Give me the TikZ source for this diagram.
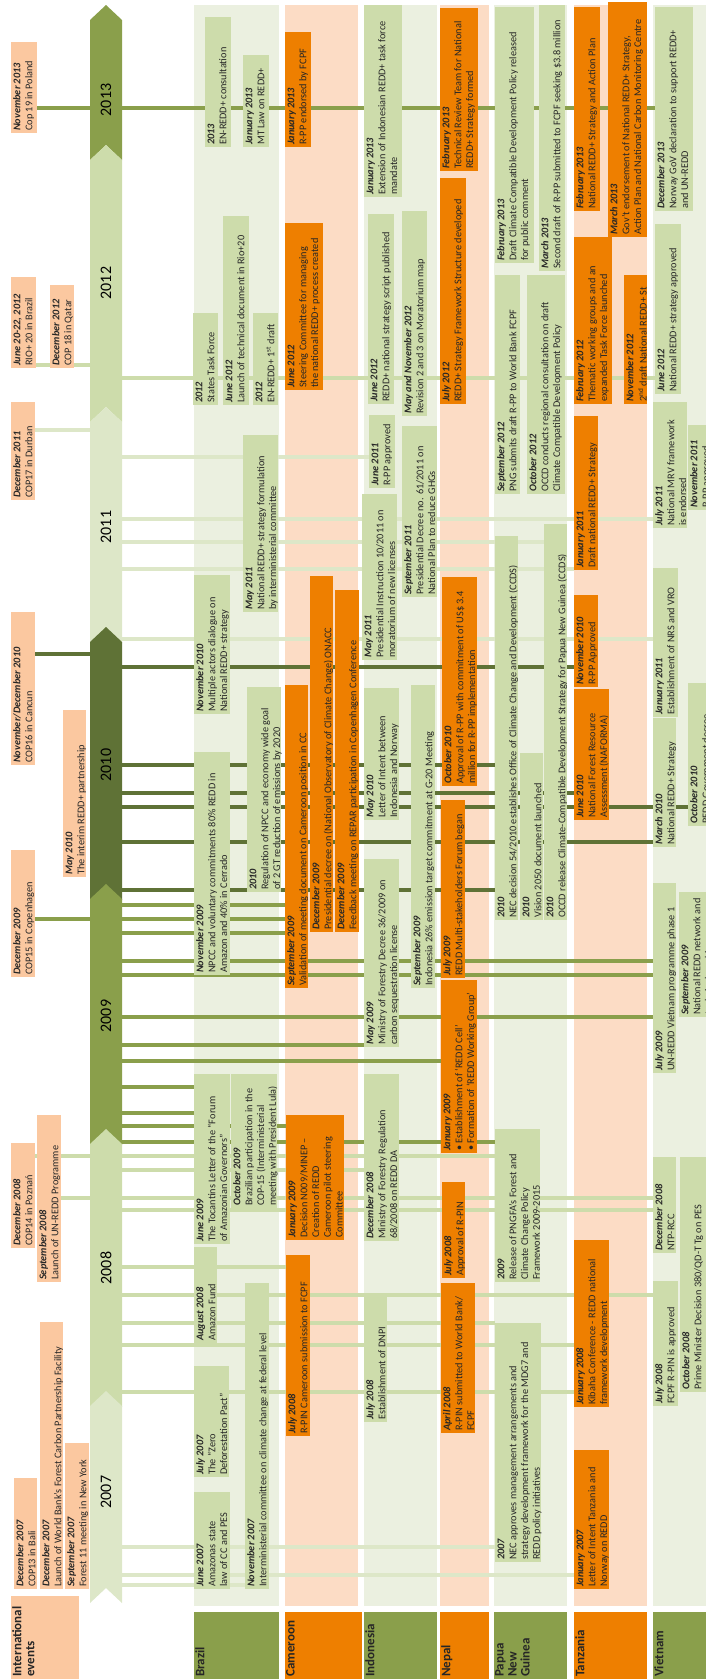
\documentclass[tikz,border=0pt]{standalone}
\usepackage{fontspec}
\setmainfont{Carlito}
\usepackage{tikz}

\definecolor{peachbox}{HTML}{FBC8A0}
\definecolor{peachbg}{HTML}{FCDCC5}
\definecolor{greenbg}{HTML}{EBF0E0}
\definecolor{greenbox}{HTML}{CDDCAB}
\definecolor{greenpale}{HTML}{DDE7C8}
\definecolor{greenmid}{HTML}{8A9F4B}
\definecolor{greendark}{HTML}{5F7236}
\definecolor{orangebox}{HTML}{EE7F00}

\pgfdeclarelayer{bands}
\pgfdeclarelayer{links}
\pgfsetlayers{bands,links,main}

\tikzset{
  evt/.style={rotate=90, anchor=north west, inner xsep=2pt, inner ysep=1pt,
    text=black!85, font=\fontsize{10.3}{11.8}\selectfont},
  yrlab/.style={rotate=90, font=\fontsize{16}{16}\selectfont},
  link/.style={line width=4pt},
}

\newcommand{\dt}[1]{\textbf{\textit{#1}}}
\newcommand{\rowname}{\fontsize{13}{13}\selectfont\bfseries}
% name, fill, left, right, top, bottom, text
\newcommand{\evt}[7]{%
  \node[evt, fill=#2] (#1) at (#3,#6)
    {\parbox[c][\dimexpr#4pt-#3pt-2pt\relax][t]{\dimexpr#6pt-#5pt-4pt\relax}{\raggedright\strut#7}};}

\begin{document}
\begin{tikzpicture}[x=1pt, y=-1pt]
    \useasboundingbox (0,0) rectangle (706,1679);
    \clip (0,0) rectangle (706,1679);

    % country bands
    \begin{pgfonlayer}{bands}
    \foreach \a/\b/\c in {194/279/greenbg, 285/358/peachbg, 364/437/greenbg, 440/489/peachbg,
                          494/567/greenbg, 574/647/peachbg, 653/706/greenbg} {
        \fill[\c] (\a,5) rectangle (\b,1606);
    }
    \end{pgfonlayer}

    % year arrow
    \coordinate (spine) at (106,0);
    \foreach \ya/\yb/\col/\yr/\ym in {5/160/greenmid/2013/100, 145/422/greenbox/2012/283,
            407/643/greenpale/2011/527, 627/900/greendark/2010/765, 884/1145/greenmid/2009/1016,
            1129/1407/greenbox/2008/1268, 1391/1603/greenpale/2007/1492} {
        \fill[\col] (90,\ya+15) -- (106,\ya) -- (122,\ya+15) -- (122,\yb) -- (106,\yb-15) -- (90,\yb) -- cycle;
        \node[yrlab] (yr\yr) at (106,\ym) {\yr};
    }

    % international events
    \evt{i13}{peachbox}{11}{37}{42}{133}{\dt{November 2013}\\Cop 19  in Poland}
    \evt{i12a}{peachbox}{11}{36}{277}{368}{\dt{June  20-22, 2012}\\RIO+ 20 in Brazil}
    \evt{i12b}{peachbox}{50}{74}{285}{368}{\dt{December  2012}\\COP 18 in Qatar}
    \evt{i11}{peachbox}{11}{35}{402}{500}{\dt{December 2011}\\COP17 in Durban}
    \evt{i10a}{peachbox}{11}{35}{612}{765}{\dt{November/December 2010}\\COP16 in Cancun}
    \evt{i10b}{peachbox}{63}{86}{710}{877}{\dt{May 2010}\\The interim REDD+ partnership}
    \evt{i09}{peachbox}{11}{35}{850}{977}{\dt{December 2009}\\COP15 in Copenhagen}
    \evt{i08a}{peachbox}{11}{35}{1143}{1248}{\dt{December 2008}\\COP14 in Poznań}
    \evt{i08b}{peachbox}{37}{61}{1115}{1282}{\dt{September 2008}\\Launch of UN-REDD Programme}
    \evt{i07b}{peachbox}{40}{63}{1322}{1589}{\dt{December 2007}\\Launch of World Bank’s Forest Carbon Partnership Facility}
    \evt{i07a}{peachbox}{14}{37}{1478}{1589}{\dt{December 2007}\\COP13 in Bali}
    \evt{i07c}{peachbox}{65}{89}{1443}{1589}{\dt{September 2007}\\Forest 11 meeting in New York}

    % Brazil
    \evt{b13a}{greenbox}{205}{231}{17}{147}{\dt{2013}\\EN-REDD+ consultation}
    \evt{b13b}{greenbox}{243}{269}{55}{147}{\dt{January 2013}\\MT Law on REDD+}
    \evt{b12b}{greenbox}{223}{249}{216}{405}{\dt{June 2012}\\Launch of technical document in Rio+20}
    \evt{b12a}{greenbox}{193}{218}{313}{405}{\dt{2012}\\States Task Force}
    \evt{b12c}{greenbox}{253}{278}{313}{405}{\dt{2012}\\EN-REDD+  1\textsuperscript{st} draft}
    \evt{b11}{greenbox}{243}{278}{435}{612}{\dt{May 2011}\\National REDD+ strategy formulation\\by interministerial committee}
    \evt{b10a}{greenbox}{194}{230}{575}{714}{\dt{November 2010}\\Multiple actors dialogue on\\National REDD+ strategy}
    \evt{b10b}{greenbox}{247}{281}{687}{892}{\dt{2010}\\Regulation of NPCC and economy wide goal\\of 2 GT reduction of emissions by 2020}
    \evt{b09a}{greenbox}{194}{230}{752}{975}{\dt{November 2009}\\NPCC and voluntary commitments 80\% REDD in\\Amazon and 40\% in Cerrado}
    \evt{b09b}{greenbox}{194}{230}{1074}{1244}{\dt{June 2009}\\The Tocantins Letter of the “Forum\\of Amazonian Governors”}
    \evt{b09c}{greenbox}{231}{277}{1074}{1208}{\dt{October 2009}\\Brazilian participation in the\\COP-15 (Interministerial\\meeting with President Lula)}
    \evt{b08}{greenbox}{194}{217}{1247}{1343}{\dt{August 2008}\\Amazon Fund}
    \evt{b07a}{greenbox}{194}{229}{1366}{1477}{\dt{July 2007}\\The “Zero\\Deforestation Pact”}
    \evt{b07b}{greenbox}{245}{269}{1283}{1589}{\dt{November 2007}\\Interministerial committee on climate change at federal level}
    \evt{b07c}{greenbox}{194}{230}{1492}{1589}{\dt{June 2007}\\Amazonas state\\law of CC and PES}

    % Cameroon
    \evt{c13}{orangebox}{285}{311}{32}{147}{\dt{January 2013}\\R-PP endorsed by FCPF}
    \evt{c12}{orangebox}{285}{323}{223}{390}{\dt{June 2012}\\Steering Committee for managing\\the national REDD+ process created}
    \evt{c09b}{orangebox}{310}{333}{576}{932}{\dt{December 2009}\\Presidential decree on (National Observatory of Climate Change) ONACC}
    \evt{c09c}{orangebox}{335}{359}{590}{932}{\dt{December 2009}\\Feedback meeting on REPAR participation in Copenhagen Conference}
    \evt{c09a}{orangebox}{285}{308}{685}{988}{\dt{September 2009}\\Validation of meeting document on Cameroon position in CC}
    \evt{c09d}{orangebox}{286}{344}{1115}{1240}{\dt{January 2009}\\Decision N009/MINEP –\\Creation of REDD\\Cameroon pilot steering\\Committee}
    \evt{c08}{orangebox}{286}{310}{1255}{1436}{\dt{July 2008}\\R-PIN Cameroon submission to FCPF}

    % Indonesia
    \evt{n13}{greenbox}{364}{402}{5}{197}{\dt{January 2013}\\Extension of Indonesian REDD+ task force\\mandate}
    \evt{n12a}{greenbox}{368}{394}{214}{404}{\dt{June 2012}\\REDD+ national strategy script published}
    \evt{n12b}{greenbox}{402}{427}{211}{416}{\dt{May and November 2012}\\Revision 2 and 3 on Moratorium map}
    \evt{n11a}{greenbox}{369}{395}{415}{488}{\dt{June 2011}\\R-PP approved}
    \evt{n11b}{greenbox}{402}{437}{426}{597}{\dt{September 2011}\\Presidential Decree no. 61/2011 on\\National Plan to reduce GHGs}
    \evt{n11c}{greenbox}{362}{397}{494}{660}{\dt{May 2011}\\Presidential Instruction 10/2011 on\\moratorium of new licenses}
    \evt{n10}{greenbox}{364}{399}{688}{820}{\dt{May 2010}\\Letter of Intent between\\Indonesia and Norway}
    \evt{n09a}{greenbox}{411}{435}{685}{988}{\dt{September 2009}\\Indonesia 26\% emission target commitment at G-20 Meeting}
    \evt{n09b}{greenbox}{364}{399}{859}{1047}{\dt{May 2009}\\Ministry of Forestry Decree 36/2009 on\\carbon sequestration license}
    \evt{n08a}{greenbox}{364}{399}{1074}{1241}{\dt{December 2008}\\Ministry of Forestry Regulation\\68/2008 on REDD DA}
    \evt{n08b}{greenbox}{364}{387}{1297}{1422}{\dt{July 2008}\\Establishment of DNPI}

    % Nepal
    \evt{p13}{orangebox}{440}{478}{8}{171}{\dt{February 2013}\\Technical Review Team for National\\REDD+ Strategy formed}
    \evt{p12}{orangebox}{440}{466}{178}{404}{\dt{July 2012}\\REDD+ Strategy Framework Structure developed}
    \evt{p10}{orangebox}{442}{477}{577}{786}{\dt{October 2010}\\Approval of R-PP with commitment of US\$ 3.4\\million for R-PP implementation}
    \evt{p09a}{orangebox}{441}{465}{800}{978}{\dt{July 2009}\\REDD Multi-stakeholders Forum began}
    \evt{p09b}{orangebox}{441}{477}{980}{1153}{\dt{January 2009}\\• Establishment of ‘REDD Cell’\\• Formation of ‘REDD Working Group’}
    \evt{p08a}{orangebox}{442}{465}{1182}{1278}{\dt{July 2008}\\Approval of R-PIN}
    \evt{p08b}{orangebox}{441}{475}{1283}{1433}{\dt{April 2008}\\R-PIN submitted to World Bank/\\FCPF}

    % Papua New Guinea
    \evt{g13a}{greenbox}{495}{534}{7}{263}{\dt{February 2013}\\Draft Climate Compatible Development Policy released\\for public comment}
    \evt{g13b}{greenbox}{539}{565}{5}{271}{\dt{March 2013}\\Second draft of R-PP submitted to FCPF seeking \$3.8 million}
    \evt{g12a}{greenbox}{495}{520}{275}{494}{\dt{September 2012}\\PNG submits draft R-PP  to World Bank FCPF}
    \evt{g12b}{greenbox}{527}{565}{275}{494}{\dt{October 2012}\\OCCD conducts regional consultation on draft\\Climate Compatible Development Policy}
    \evt{g10a}{greenbox}{495}{518}{536}{920}{\dt{2010}\\NEC decision 54/2010 establishes Office of Climate Change and Development (CCDS)}
    \evt{g10c}{greenbox}{544}{567}{524}{920}{\dt{2010}\\OCCD release Climate-Compatible Development Strategy for Papua New Guinea (CCDS)}
    \evt{g10b}{greenbox}{520}{543}{753}{920}{\dt{2010}\\Vision 2050 document launched}
    \evt{g09}{greenbox}{495}{540}{1129}{1282}{\dt{2009}\\Release of PNGFA’s Forest and\\Climate Change Policy\\Framework 2009-2015}
    \evt{g07}{greenbox}{495}{541}{1323}{1562}{\dt{2007}\\NEC approves management arrangements and\\strategy development framework for the MDG7 and\\REDD policy initiatives}

    % Tanzania
    \evt{t13a}{orangebox}{574}{600}{7}{211}{\dt{February 2013}\\National REDD+ Strategy and Action Plan}
    \evt{t13b}{orangebox}{608}{647}{2}{237}{\dt{March 2013}\\Gov’t endorsement of National REDD+ Strategy,\\Action Plan and National Carbon Monitoring Centre}
    \evt{t12a}{orangebox}{574}{612}{237}{404}{\dt{February 2012}\\Thematic working groups and  an\\expanded Task Force  launched}
    \evt{t12b}{orangebox}{624}{647}{275}{404}{\dt{November 2012}\\2\textsuperscript{nd} draft National REDD+ St}
    \evt{t11}{orangebox}{574}{598}{416}{570}{\dt{January 2011}\\Draft national REDD+ Strategy}
    \evt{t10a}{orangebox}{574}{598}{595}{687}{\dt{November 2010}\\R-PP Approved}
    \evt{t10b}{orangebox}{574}{609}{689}{820}{\dt{June 2010}\\National Forest Resource\\Assessment (NAFORMA)}
    \evt{t08}{orangebox}{574}{609}{1240}{1407}{\dt{January 2008}\\Kibaha Conference  -  REDD national\\framework development}
    \evt{t07}{orangebox}{574}{609}{1450}{1589}{\dt{January 2007}\\Letter of Intent Tanzania and\\Norway on REDD}

    % Vietnam
    \evt{v13}{greenbox}{655}{693}{7}{211}{\dt{December 2013}\\Norway GoV declaration to support REDD+\\and UN-REDD}
    \evt{v12}{greenbox}{655}{681}{224}{394}{\dt{June 2012}\\National REDD+ strategy approved}
    \evt{v11a}{greenbox}{653}{687}{402}{528}{\dt{July 2011}\\National MRV framework\\is endorsed}
    \evt{v11b}{greenbox}{688}{725}{425}{510}{\dt{November 2011}\\R-PP approved}
    \evt{v11c}{greenbox}{653}{678}{568}{717}{\dt{January 2011}\\Establishment of NRS and VRO}
    \evt{v10a}{greenbox}{653}{676}{718}{847}{\dt{March 2010}\\National REDD+ Strategy}
    \evt{v10b}{greenbox}{688}{725}{683}{826}{\dt{October 2010}\\REDD Government decree}
    \evt{v09a}{greenbox}{653}{676}{883}{1073}{\dt{July 2009}\\UN-REDD Vietnam programme phase 1}
    \evt{v09b}{greenbox}{679}{725}{892}{1017}{\dt{September 2009}\\National REDD network and\\technical working group}
    \evt{v08a}{greenbox}{653}{676}{1157}{1253}{\dt{December 2008}\\NTP-RCC}
    \evt{v08b}{greenbox}{680}{725}{1157}{1392}{\dt{October 2008}\\Prime Minister Decision 380/QD-T Tg on PES}
    \evt{v08c}{greenbox}{653}{678}{1281}{1406}{\dt{July 2008}\\FCPF R-PIN is approved}

    % row labels
    \evt{labint}{peachbox}{11}{79}{1596}{1679}{\rowname International\\events}
    \evt{labbra}{greenmid}{194}{279}{1612}{1679}{\rowname Brazil}
    \evt{labcam}{orangebox}{285}{362}{1612}{1679}{\rowname Cameroon}
    \evt{labind}{greenmid}{364}{437}{1612}{1679}{\rowname Indonesia}
    \evt{labnep}{orangebox}{440}{489}{1612}{1679}{\rowname Nepal}
    \evt{labpng}{greenmid}{494}{567}{1612}{1679}{\rowname Papua\\New\\Guinea}
    \evt{labtan}{orangebox}{574}{647}{1612}{1679}{\rowname Tanzania}
    \evt{labvie}{greenmid}{653}{720}{1612}{1679}{\rowname Vietnam}

    % links from the year arrow
    \begin{pgfonlayer}{links}
    % 2013
    \draw[link, greenmid] (i13.south |- 0,108) -- (spine |- 0,108);
    \draw[link, greenmid] (spine |- 0,108) -- (v13.north |- 0,108);
    % 2012
    \draw[link, greenbox] (i12a.south |- 0,365) -- (spine |- 0,365);
    \draw[link, greenbox] (spine |- 0,378) -- (v12.north |- 0,378);
    % 2011
    \draw[link, greenpale] (i11.south |- 0,430) -- (spine |- 0,430);
    \foreach \y/\to in {457/n11a, 519/v11a, 542/g10c, 569/t11, 639/v11c} {
        \draw[link, greenpale] (spine |- 0,\y) -- (\to.north |- 0,\y);
    }
    % 2010
    \draw[link, greendark] (i10a.south |- 0,654) -- (spine |- 0,654);
    \foreach \y/\to in {667/t10a, 765/g10a, 793/t10b, 807/v10b, 842/v10a, 890/g10a} {
        \draw[link, greendark] (spine |- 0,\y) -- (\to.north |- 0,\y);
    }
    % 2009
    \draw[link, greenmid] (i09.south |- 0,919) -- (spine |- 0,919);
    \foreach \y/\to in {905/c09a, 919/c09a, 933/c09a, 961/v09a, 975/v09a, 1017/v09a,
                        1045/n09b, 1061/p09b, 1087/b09b, 1113/b09b, 1126/c09d, 1142/g09} {
        \draw[link, greenmid] (spine |- 0,\y) -- (\to.north |- 0,\y);
    }
    % 2008
    \draw[link, greenbox] (i08a.south |- 0,1156) -- (spine |- 0,1156);
    \draw[link, greenbox] (i08b.south |- 0,1198) -- (spine |- 0,1198);
    \foreach \y/\to in {1156/g09, 1170/n08a, 1198/v08a, 1210/v08a, 1267/c08, 1295/v08c,
                        1323/g07, 1345/t08, 1392/t08} {
        \draw[link, greenbox] (spine |- 0,\y) -- (\to.north |- 0,\y);
    }
    % 2007
    \foreach \y/\to in {1547/g07, 1575/t07, 1585/b07b} {
        \draw[link, greenpale] (spine |- 0,\y) -- (\to.north |- 0,\y);
    }
    \end{pgfonlayer}

\end{tikzpicture}
\end{document}
